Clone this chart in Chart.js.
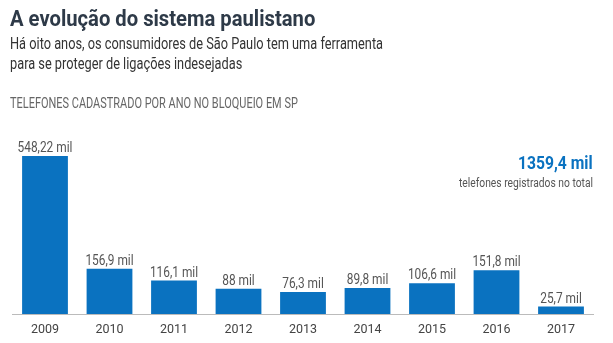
<!DOCTYPE html>
<html>
<head>
<meta charset="utf-8">
<script src="https://cdn.jsdelivr.net/npm/chart.js@4"></script>
<style>
  html, body { margin: 0; padding: 0; background: #fff; }
  body { width: 613px; height: 343px; position: relative; overflow: hidden;
         font-family: Roboto, sans-serif; }
  .txt { position: absolute; white-space: nowrap; }
  #title { left: 10px; top: 6px; font-size: 22px; font-weight: bold; color: #2e3a48; transform-origin: left top; }
  #sub { left: 10px; top: 34px; font-size: 16px; line-height: 20px; color: #333; transform-origin: left top; }
  #label { left: 10px; top: 95px; font-size: 14px; color: #666; transform-origin: left top; }
  #total { right: 20px; top: 152px; font-size: 18px; font-weight: bold; color: #0a72c0; transform-origin: right top; }
  #totalSub { right: 20px; top: 175px; font-size: 12.5px; color: #555; transform-origin: right top; }
  #chart { position: absolute; left: 0; top: 0; }
</style>
</head>
<body>
<canvas id="chart" width="613" height="343"></canvas>
<div class="txt" id="title" data-w="305">A evolução do sistema paulistano</div>
<div class="txt" id="sub" data-w="373">Há oito anos, os consumidores de São Paulo tem uma ferramenta<br>para se proteger de ligações indesejadas</div>
<div class="txt" id="label" data-w="288">TELEFONES CADASTRADO POR ANO NO BLOQUEIO EM SP</div>
<div class="txt" id="total" data-w="75">1359,4 mil</div>
<div class="txt" id="totalSub" data-w="134">telefones registrados no total</div>

<script>
// ================================
// Data (mil telefones)
// ================================

const years = ["2009", "2010", "2011", "2012", "2013", "2014", "2015", "2016", "2017"];

const phones = [548.22, 156.9, 116.1, 88, 76.3, 89.8, 106.6, 151.8, 25.7];

const FONT = "Roboto, sans-serif";

// squeeze the HTML texts to the narrow look of the original
document.querySelectorAll(".txt").forEach(el => {
    const k = Number(el.dataset.w) / el.offsetWidth;
    el.style.transform = "scaleX(" + k + ")";
});

// ================================
// Value labels above bars
// ================================

const valueLabels = {
    id: "valueLabels",
    afterDatasetsDraw(chart) {
        const ctx = chart.ctx;
        const meta = chart.getDatasetMeta(0);
        ctx.save();
        ctx.font = "14.5px " + FONT;
        ctx.fillStyle = "#555";
        ctx.textAlign = "center";
        ctx.textBaseline = "alphabetic";
        meta.data.forEach((bar, i) => {
            const text = String(phones[i]).replace(".", ",") + " mil";
            ctx.save();
            ctx.translate(bar.x, bar.y - 4);
            ctx.scale(0.82, 1);
            ctx.fillText(text, 0, 0);
            ctx.restore();
        });
        ctx.restore();
    }
};

// ================================
// Chart
// ================================

new Chart(document.getElementById("chart"), {
    type: "bar",
    data: {
        labels: years,
        datasets: [
            {
                data: phones,
                backgroundColor: "#0a72c0",
                categoryPercentage: 1,
                barPercentage: 0.71
            }
        ]
    },
    options: {
        responsive: false,
        animation: false,
        layout: {
            padding: { left: 12.75, right: 19.75, top: 156, bottom: 0 }
        },
        plugins: {
            legend: { display: false },
            tooltip: { enabled: false }
        },
        scales: {
            x: {
                grid: { display: false, drawTicks: false },
                border: { display: true, color: "#bbb", width: 1 },
                ticks: {
                    color: "#444",
                    padding: 8,
                    font: { family: FONT, size: 12.5 }
                },
                afterFit: scale => { scale.height = 29; }
            },
            y: {
                display: false,
                min: 0,
                max: 548.22
            }
        }
    },
    plugins: [valueLabels]
});
</script>
</body>
</html>
